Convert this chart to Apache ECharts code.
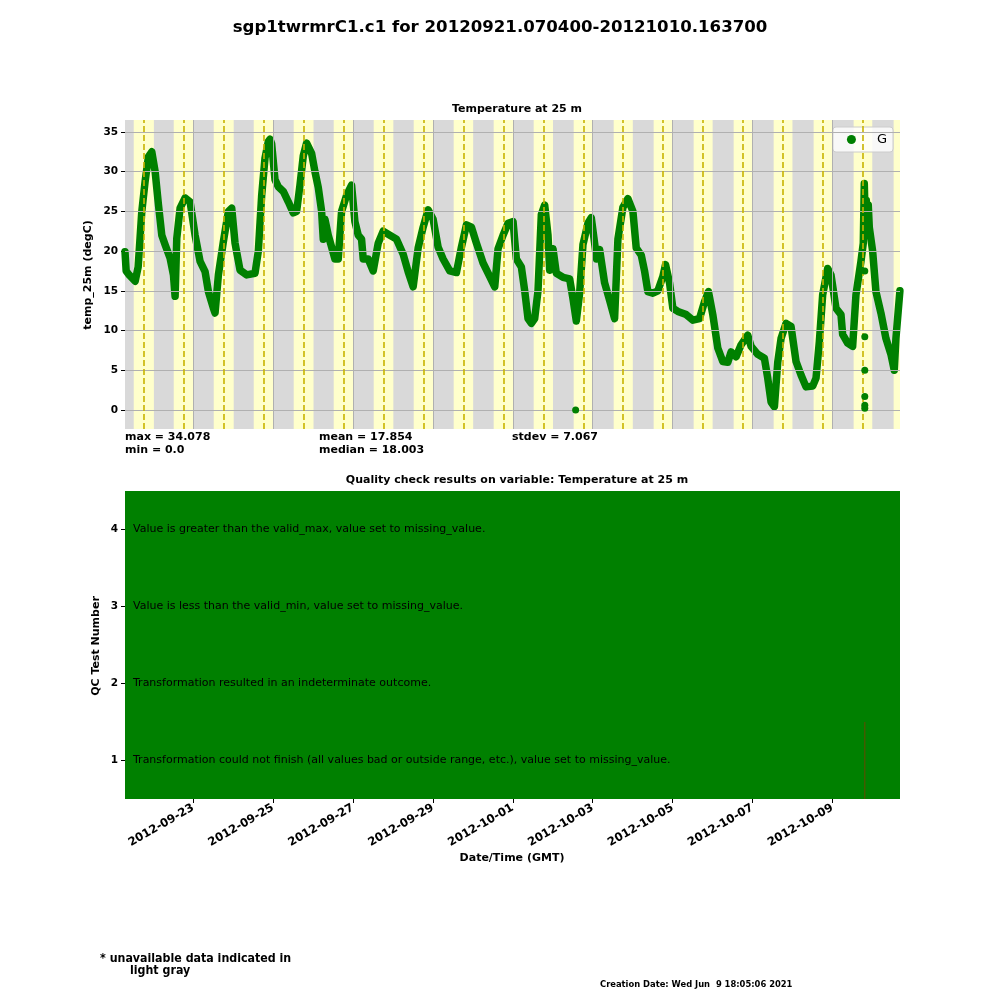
<!DOCTYPE html>
<html>
<head>
<meta charset="utf-8">
<script src="https://cdn.jsdelivr.net/npm/echarts@6/dist/echarts.min.js"></script>
<style>html,body{margin:0;padding:0;background:#fff}#c{width:1000px;height:1000px}</style>
</head>
<body>
<div id="c"></div>
<script>
// ---------- data ----------
const startTime = '2012-09-21T07:04:00Z';
const endTime = '2012-10-10T16:37:00Z';
const tickDates = ['2012-09-23','2012-09-25','2012-09-27','2012-09-29','2012-10-01','2012-10-03','2012-10-05','2012-10-07','2012-10-09'];
const tempTicks = [0, 5, 10, 15, 20, 25, 30, 35];
const qcTicks = [1, 2, 3, 4];
// hours since start time
const hourOffsets = [0,0.7,2.5,6.1,7.9,10.1,12.1,14.1,16.1,18.1,20.1,22.1,24.1,27.1,29.1,30.1,31.1,33.1,36.1,39.1,42.1,45.1,48.1,50.1,53.1,54.1,56.1,59.1,62.1,64.1,66.1,69.1,73.1,78.1,80.1,82.1,84.1,86.1,87.1,88.1,90.1,92.1,95.1,98.1,101.1,103.1,105.1,107.1,109.1,112.1,114.1,116.1,118.1,119.1,120.1,122.1,124.1,126.1,128.1,130.1,133.1,136.1,138.1,140.1,142.1,143.1,146.1,149.1,152.1,155.1,159.1,163.1,167.1,170.1,173.1,176.1,179.1,182.1,185.1,188.1,191.1,195.1,199.1,202.1,205.1,208.1,211.1,215.1,219.1,222.1,224.1,227.1,230.1,233.1,235.1,238.1,240.1,242.1,244.1,246.1,248.1,250.1,252.1,254.1,255.1,257.1,259.1,263.1,267.1,269.1,271.1,273.1,275.1,278.1,280.1,282.1,283.3,285.1,288.1,291.1,294.1,296.1,299.1,302.1,305.1,307.1,310.1,312.1,314.1,317.1,320.1,323.1,324.7,327.1,329.1,332.1,337.1,341.1,345.1,348.1,350.5,353.1,356.1,359.1,362.1,364.1,367.1,370.1,374.1,376.1,380.1,384.1,386.1,388.1,390.1,392.1,394.1,397.1,400.1,403.1,406.1,409.1,413.1,415.1,417.1,419.1,422.1,424.1,427.1,430.1,431.1,434.1,437.1,439.1,442.1,443.5,444.1,444.7,445.3,445.9,446.5,447.1,449.1,451.1,454.1,457.1,460.1,462.1,463.1,465.5];
const tempValues = [19.9,17.5,17.0,16.2,18.0,25.0,28.8,31.9,32.5,30.0,25.8,22.0,20.8,19.1,17.0,14.3,21.6,25.4,26.7,26.2,22.0,18.7,17.4,14.9,12.8,12.2,17.0,21.2,25.0,25.4,21.0,17.6,17.0,17.2,20.0,27.0,31.7,33.8,34.08,33.5,29.0,28.1,27.5,26.2,24.8,25.0,28.3,32.0,33.6,32.3,30.0,28.0,25.0,21.5,24.0,22.0,20.5,19.0,19.0,25.0,27.0,28.3,23.7,22.0,21.5,19.0,19.0,17.5,21.0,22.5,22.0,21.5,19.6,17.4,15.5,20.4,23.0,25.2,24.0,20.5,19.0,17.5,17.3,20.5,23.3,23.0,21.0,18.5,16.8,15.5,20.3,22.0,23.5,23.7,19.0,18.0,15.0,11.5,10.9,11.5,15.0,24.6,25.8,22.0,17.6,20.3,17.2,16.7,16.5,14.0,11.2,14.7,20.8,23.5,24.2,21.0,19.0,20.2,16.0,13.8,11.5,21.5,25.5,26.6,25.0,20.4,19.5,17.5,14.9,14.7,15.0,16.8,18.3,16.0,12.8,12.4,12.0,11.3,11.5,13.6,14.9,12.0,7.8,6.1,6.0,7.3,6.7,8.2,9.4,8.0,7.0,6.5,4.0,1.0,0.4,6.0,9.0,10.9,10.5,6.1,4.4,2.9,3.0,4.0,8.6,14.5,17.8,17.0,12.8,12.0,9.5,8.4,8.0,14.5,18.7,21.0,28.5,23.5,26.4,24.0,25.8,23.0,20.0,14.9,12.2,9.0,7.0,5.0,9.0,15.0];
const outlierHours = [270.7, 444.4, 444.4, 444.4, 444.4, 444.4, 444.4];
const outlierValues = [0.0, 17.5, 9.2, 5.0, 1.7, 0.6, 0.2];
// daylight bands: local solar noon (UTC) and day length in hours
const bandDays = ['2012-09-21','2012-09-22','2012-09-23','2012-09-24','2012-09-25','2012-09-26','2012-09-27','2012-09-28','2012-09-29','2012-09-30','2012-10-01','2012-10-02','2012-10-03','2012-10-04','2012-10-05','2012-10-06','2012-10-07','2012-10-08','2012-10-09','2012-10-10'];
const solarNoonUTC = '18:22';
const dayLengths = [12.1,12.05,12.0,11.95,11.9,11.85,11.8,11.75,11.7,11.65,11.6,11.55,11.5,11.45,11.4,11.35,11.3,11.25,11.2,11.15];
const qcLabels = ['Transformation could not finish (all values bad or outside range, etc.), value set to missing_value.','Transformation resulted in an indeterminate outcome.','Value is less than the valid_min, value set to missing_value.','Value is greater than the valid_max, value set to missing_value.'];
// QC cells: [startHour, endHour, test, failed]
const qcCells = [[0,465.55,1,0],[0,465.55,2,0],[0,465.55,3,0],[0,465.55,4,0],[444.2,444.5,1,1]];
const stats = {max: '34.078', min: '0.0', mean: '17.854', median: '18.003', stdev: '7.067'};

// ---------- build ----------
const H = 3600000;
const t0 = Date.parse(startTime), t1 = Date.parse(endTime);
const tickMs = tickDates.map(d => Date.parse(d + 'T00:00:00Z'));
const tempData = hourOffsets.map((h, i) => [t0 + h * H, tempValues[i]]);
const outData = outlierHours.map((h, i) => [t0 + h * H, outlierValues[i]]);
const noonMs = bandDays.map(d => Date.parse(d + 'T' + solarNoonUTC + ':00Z'));
const bandData = [];
noonMs.forEach((n, i) => {
  const a = Math.max(t0, n - dayLengths[i] / 2 * H), b = Math.min(t1, n + dayLengths[i] / 2 * H);
  if (b > a) bandData.push([{xAxis: a}, {xAxis: b}]);
});
const noonLines = noonMs.filter(n => n >= t0 && n <= t1).map(n => ({xAxis: n}));
const gridLines = tickMs.map(v => ({xAxis: v})).concat(tempTicks.map(v => ({yAxis: v})));

const FONT = 'DejaVu Sans';
const bold = (size) => ({fontFamily: FONT, fontWeight: 'bold', fontSize: size, color: '#000'});

const chart = echarts.init(document.getElementById('c'), null, {renderer: 'canvas'});
chart.setOption({
  animation: false,
  backgroundColor: '#ffffff',
  textStyle: {fontFamily: FONT},
  title: [
    {text: 'sgp1twrmrC1.c1 for 20120921.070400-20121010.163700', left: 'center', top: 14, textStyle: bold(16.6)},
    {text: 'Temperature at 25 m', left: 512, textAlign: 'center', top: 99, textStyle: bold(11)},
    {text: 'Quality check results on variable: Temperature at 25 m', left: 512, textAlign: 'center', top: 470, textStyle: bold(11)}
  ],
  legend: {
    data: [{name: 'G', icon: 'circle'}],
    right: 107, top: 127,
    itemWidth: 9, itemHeight: 9,
    padding: [6, 6, 6, 14],
    backgroundColor: 'rgba(255,255,255,0.8)',
    borderColor: '#cccccc', borderWidth: 1, borderRadius: 3,
    textStyle: {fontFamily: FONT, fontSize: 13, color: '#000', padding: [0, 0, 0, 16]}
  },
  grid: [
    {left: 125, right: 100, top: 120, height: 309, backgroundColor: '#d9d9d9', show: true, borderWidth: 0},
    {left: 125, right: 100, top: 491, height: 308, borderWidth: 0}
  ],
  xAxis: [
    {type: 'value', gridIndex: 0, min: t0, max: t1, splitLine: {show: false},
     axisLine: {show: false},
     axisTick: {show: true, length: 4, customValues: tickMs, lineStyle: {color: '#000'}},
     axisLabel: {show: false, customValues: tickMs}},
    {type: 'value', gridIndex: 1, min: t0, max: t1, splitLine: {show: false},
     axisLine: {show: false},
     axisTick: {show: true, length: 4, customValues: tickMs, lineStyle: {color: '#000'}},
     axisLabel: {show: true, customValues: tickMs, rotate: 30, margin: 8,
       formatter: v => new Date(v).toISOString().slice(0, 10), ...bold(11.5)}}
  ],
  yAxis: [
    {type: 'value', gridIndex: 0, min: -2.4, max: 36.5, splitLine: {show: false},
     axisLine: {show: false},
     axisTick: {show: true, length: 4, customValues: tempTicks, lineStyle: {color: '#000'}},
     axisLabel: {show: true, customValues: tempTicks, margin: 7, ...bold(10.5)}},
    {type: 'value', gridIndex: 1, min: 0.5, max: 4.5, splitLine: {show: false},
     axisLine: {show: false},
     axisTick: {show: true, length: 4, customValues: qcTicks, lineStyle: {color: '#000'}},
     axisLabel: {show: true, customValues: qcTicks, margin: 7, ...bold(10.5)}}
  ],
  series: [
    {type: 'line', xAxisIndex: 0, yAxisIndex: 0, data: [], z: 1, silent: true,
     markArea: {silent: true, itemStyle: {color: '#ffffcc'}, data: bandData}},
    {type: 'line', xAxisIndex: 0, yAxisIndex: 0, data: [], z: 2, silent: true,
     markLine: {silent: true, symbol: 'none', label: {show: false}, animation: false,
       lineStyle: {color: '#b0b0b0', width: 1, type: 'solid'}, data: gridLines}},
    {type: 'line', xAxisIndex: 0, yAxisIndex: 0, data: [], z: 3, silent: true,
     markLine: {silent: true, symbol: 'none', label: {show: false}, animation: false,
       lineStyle: {color: '#c8b400', width: 1.6, type: [6, 3]}, data: noonLines}},
    {name: 'G', type: 'line', xAxisIndex: 0, yAxisIndex: 0, data: tempData, z: 4,
     showSymbol: false, itemStyle: {color: '#008000'},
     lineStyle: {color: '#008000', width: 7.5, cap: 'round', join: 'round'}},
    {name: 'G', type: 'scatter', xAxisIndex: 0, yAxisIndex: 0, data: outData, z: 5,
     symbolSize: 7, itemStyle: {color: '#008000', opacity: 1}},
    {type: 'custom', xAxisIndex: 1, yAxisIndex: 1, z: 2, silent: true,
     data: qcCells.map(c => [t0 + c[0] * H, t0 + c[1] * H, c[2], c[3]]),
     renderItem: (params, api) => {
       const p0 = api.coord([api.value(0), api.value(2) + 0.5]);
       const p1 = api.coord([api.value(1), api.value(2) - 0.5]);
       const cs = params.coordSys;
       const r = echarts.graphic.clipRectByRect(
         {x: p0[0], y: p0[1], width: Math.max(p1[0] - p0[0], 0.8), height: p1[1] - p0[1]},
         {x: cs.x, y: cs.y, width: cs.width, height: cs.height});
       return r && {type: 'rect', shape: r, style: {fill: api.value(3) ? 'rgba(230,0,0,0.55)' : '#008000'}};
     }},
    {type: 'custom', xAxisIndex: 1, yAxisIndex: 1, z: 3, silent: true,
     data: qcLabels.map((t, i) => [t0, qcTicks[i], t]),
     renderItem: (params, api) => {
       const p = api.coord([api.value(0), api.value(1)]);
       return {type: 'text', x: p[0] + 8, y: p[1],
         style: {text: qcLabels[params.dataIndex], fill: '#000', font: '11px "DejaVu Sans"', align: 'left', verticalAlign: 'middle'}};
     }}
  ],
  graphic: [
    {type: 'text', x: 88, y: 275, rotation: Math.PI / 2, style: {text: 'temp_25m (degC)', font: 'bold 11px "DejaVu Sans"', fill: '#000', align: 'center', verticalAlign: 'middle'}},
    {type: 'text', x: 96, y: 646, rotation: Math.PI / 2, style: {text: 'QC Test Number', font: 'bold 11px "DejaVu Sans"', fill: '#000', align: 'center', verticalAlign: 'middle'}},
    {type: 'text', x: 512, y: 858, style: {text: 'Date/Time (GMT)', font: 'bold 11px "DejaVu Sans"', fill: '#000', align: 'center', verticalAlign: 'middle'}},
    {type: 'text', x: 125, y: 437, style: {text: 'max = ' + stats.max, font: 'bold 11px "DejaVu Sans"', fill: '#000', verticalAlign: 'middle'}},
    {type: 'text', x: 125, y: 450, style: {text: 'min = ' + stats.min, font: 'bold 11px "DejaVu Sans"', fill: '#000', verticalAlign: 'middle'}},
    {type: 'text', x: 319, y: 437, style: {text: 'mean = ' + stats.mean, font: 'bold 11px "DejaVu Sans"', fill: '#000', verticalAlign: 'middle'}},
    {type: 'text', x: 319, y: 450, style: {text: 'median = ' + stats.median, font: 'bold 11px "DejaVu Sans"', fill: '#000', verticalAlign: 'middle'}},
    {type: 'text', x: 512, y: 437, style: {text: 'stdev = ' + stats.stdev, font: 'bold 11px "DejaVu Sans"', fill: '#000', verticalAlign: 'middle'}},
    {type: 'text', x: 100, y: 959, style: {text: '* unavailable data indicated in', font: 'bold 12.3px "DejaVu Sans Condensed", "DejaVu Sans"', fill: '#000', verticalAlign: 'middle'}},
    {type: 'text', x: 130, y: 971, style: {text: 'light gray', font: 'bold 12.3px "DejaVu Sans Condensed", "DejaVu Sans"', fill: '#000', verticalAlign: 'middle'}},
    {type: 'text', x: 600, y: 985, style: {text: 'Creation Date: Wed Jun  9 18:05:06 2021', font: 'bold 9.3px "DejaVu Sans Condensed", "DejaVu Sans"', fill: '#000', verticalAlign: 'middle'}}
  ]
});
</script>
</body>
</html>
